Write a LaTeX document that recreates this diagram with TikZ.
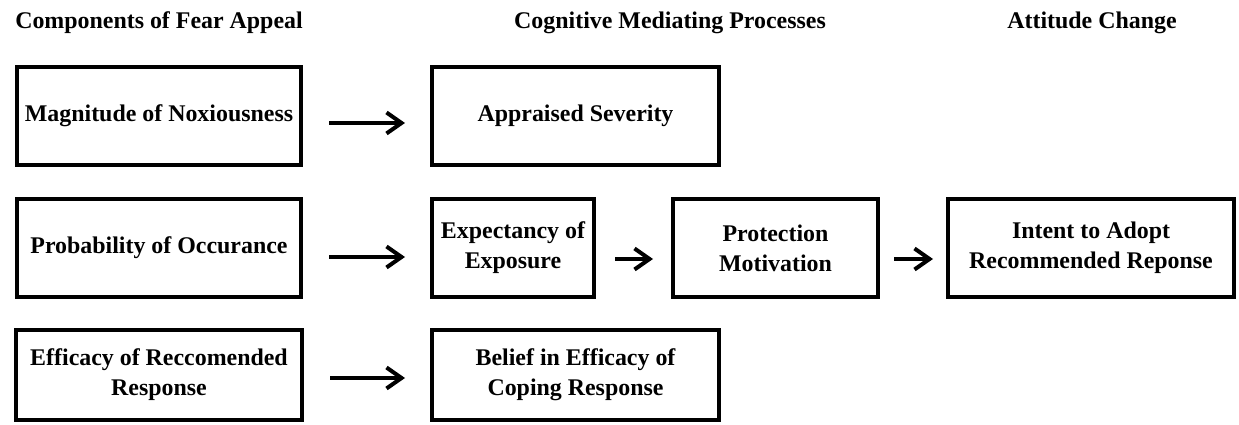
\documentclass[tikz,border=0pt]{standalone}
\usepackage{fontspec}
\setmainfont{Liberation Serif}
\usetikzlibrary{arrows.meta}
\begin{document}
\begin{tikzpicture}[
    box/.style={draw, line width=0.08cm, align=center, inner sep=2pt, minimum height=1.96cm, font=\fontsize{13.6}{17}\selectfont\bfseries},
    head/.style={font=\fontsize{13.6}{17}\selectfont\bfseries},
    arr/.style={line width=0.08cm, -{Straight Barb[length=0.3cm,width=0.42cm]}}
]
                \useasboundingbox (0,0) rectangle (24.78,-8.5) ;
                \draw (3.18,-0.46) node[head] (hcomp) {Components of Fear Appeal} ;
                \draw (13.4,-0.46) node[head] (hcog) {Cognitive Mediating Processes} ;
                \draw (21.84,-0.46) node[head] (hatt) {Attitude Change} ;
                \draw (3.18,-2.32) node[box, minimum width=5.68cm] (mag) {Magnitude of Noxiousness} ;
                \draw (11.51,-2.32) node[box, minimum width=5.74cm] (sev) {Appraised Severity} ;
                \draw (3.18,-4.96) node[box, minimum width=5.68cm] (prob) {Probability of Occurance} ;
                \draw (10.26,-4.96) node[box, minimum width=3.24cm] (expo) {Expectancy of\\Exposure} ;
                \draw (15.51,-4.96) node[box, minimum width=4.10cm] (prot) {Protection\\Motivation} ;
                \draw (21.82,-4.96) node[box, minimum width=5.72cm] (intent) {Intent to Adopt\\Recommended Reponse} ;
                \draw (3.18,-7.5) node[box, minimum width=5.72cm, minimum height=1.80cm] (effi) {Efficacy of Reccomended\\Response} ;
                \draw (11.51,-7.5) node[box, minimum width=5.74cm, minimum height=1.80cm] (belief) {Belief in Efficacy of\\Coping Response} ;
                \draw [arr, shorten <=0.52cm, shorten >=0.5cm] ([yshift=-0.14cm]mag.east) -- ([yshift=-0.14cm]sev.west) ;
                \draw [arr, shorten <=0.52cm, shorten >=0.5cm] ([yshift=-0.18cm]prob.east) -- ([yshift=-0.18cm]expo.west) ;
                \draw [arr, shorten <=0.38cm, shorten >=0.36cm] ([yshift=-0.22cm]expo.east) -- ([yshift=-0.22cm]prot.west) ;
                \draw [arr, shorten <=0.28cm, shorten >=0.26cm] ([yshift=-0.22cm]prot.east) -- ([yshift=-0.22cm]intent.west) ;
                \draw [arr, shorten <=0.52cm, shorten >=0.5cm] ([yshift=-0.06cm]effi.east) -- ([yshift=-0.06cm]belief.west) ;
\end{tikzpicture}
\end{document}
